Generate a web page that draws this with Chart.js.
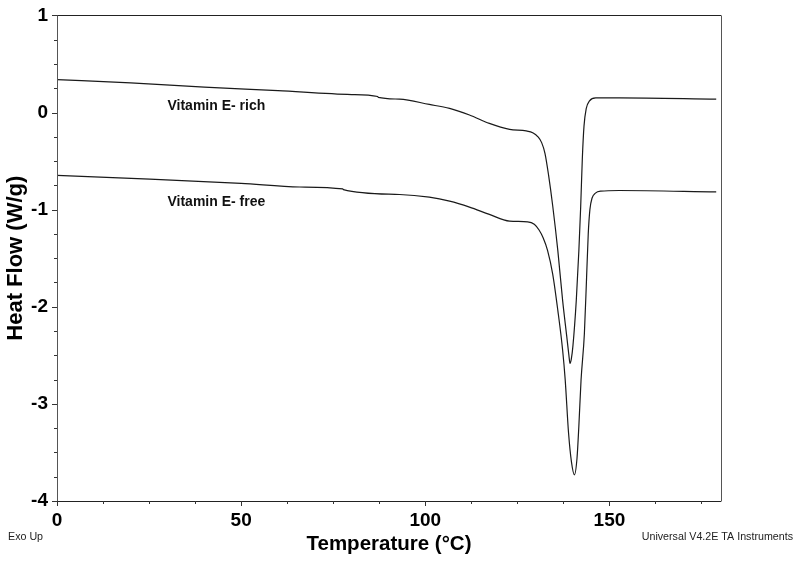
<!DOCTYPE html>
<html>
<head>
<meta charset="utf-8">
<script src="https://cdn.jsdelivr.net/npm/chart.js@4.4.1/dist/chart.umd.min.js"></script>
<style>
  html, body { margin: 0; padding: 0; background: #ffffff; }
  #wrap { width: 800px; height: 564px; position: relative; }
</style>
</head>
<body>
<div id="wrap"><canvas id="c" width="800" height="564"></canvas></div>
<script>
// ---- data ----
const richTemp = [0, 20, 40, 60, 80, 87.1, 87.25, 93.0, 101.1, 106.6, 112.0, 117.4, 122.9, 127.4, 129.3, 130.6, 131.6, 132.5, 133.5, 134.6, 136.0, 137.3, 138.4, 139.0, 139.3, 139.65, 140.1, 141.0, 141.7, 142.2, 142.65, 143.1, 143.7, 144.6, 146.3, 152.7, 179.0];
const richFlow = [0.339, 0.305, 0.262, 0.225, 0.185, 0.165, 0.156, 0.138, 0.083, 0.042, -0.026, -0.112, -0.173, -0.189, -0.210, -0.250, -0.310, -0.420, -0.650, -0.960, -1.425, -1.937, -2.300, -2.500, -2.584, -2.540, -2.400, -1.937, -1.425, -0.970, -0.470, -0.140, 0.040, 0.120, 0.150, 0.151, 0.137];

const freeTemp = [0, 25.2, 50, 65.9, 77.6, 77.75, 93.0, 101.1, 106.6, 112.0, 117.4, 122.9, 127.8, 129.6, 130.9, 132.0, 133.2, 134.6, 136.0, 137.3, 138.0, 138.9, 139.7, 140.5, 141.2, 141.7, 142.3, 143.2, 143.8, 144.25, 144.7, 145.3, 146.2, 147.6, 152.7, 179.0];
const freeFlow = [-0.647, -0.685, -0.730, -0.767, -0.787, -0.794, -0.844, -0.872, -0.913, -0.974, -1.049, -1.118, -1.125, -1.150, -1.210, -1.290, -1.420, -1.663, -2.039, -2.448, -2.755, -3.298, -3.600, -3.730, -3.560, -3.230, -2.755, -2.277, -1.700, -1.250, -1.000, -0.880, -0.830, -0.810, -0.803, -0.818];

const seriesNames = ['Vitamin E- rich', 'Vitamin E- free'];
const labelTemp = [30.0, 30.0];
const labelFlow = [0.07, -0.923];

const xTicks = [0, 50, 100, 150];
const yTicks = [-4, -3, -2, -1, 0, 1];
const xRange = [0, 180.3];
const yRange = [-4, 1];
const xMinorStep = 12.5;
const yMinorStep = 0.25;

const xTitle = 'Temperature (°C)';
const yTitle = 'Heat Flow (W/g)';
const footLeft = 'Exo Up';
const footRight = 'Universal V4.2E TA Instruments';

// ---- build ----
function pts(xs, ys) { return xs.map((x, i) => ({ x: x, y: ys[i] })); }

const FONT = '"Liberation Sans", Arial, Helvetica, sans-serif';

const framePlugin = {
  id: 'frame',
  afterDraw(chart) {
    const ctx = chart.ctx;
    const a = chart.chartArea;
    const xs = chart.scales.x, ys = chart.scales.y;
    ctx.save();
    ctx.lineWidth = 1;
    ctx.strokeStyle = '#222';
    ctx.beginPath();
    ctx.moveTo(a.left, Math.round(a.top) + 0.5);
    ctx.lineTo(a.right, Math.round(a.top) + 0.5);
    ctx.moveTo(a.left, Math.round(a.bottom) + 0.5);
    ctx.lineTo(a.right, Math.round(a.bottom) + 0.5);
    ctx.stroke();
    ctx.strokeStyle = '#555';
    ctx.beginPath();
    ctx.moveTo(Math.round(a.left) + 0.5, a.top);
    ctx.lineTo(Math.round(a.left) + 0.5, a.bottom + 0.5);
    ctx.moveTo(Math.round(a.right) + 0.5, a.top);
    ctx.lineTo(Math.round(a.right) + 0.5, a.bottom + 0.5);
    ctx.stroke();
    ctx.strokeStyle = '#333';
    ctx.beginPath();
    for (let v = xRange[0]; v <= xRange[1] + 1e-9; v += xMinorStep) {
      const px = Math.round(xs.getPixelForValue(v)) + 0.5;
      const major = xTicks.includes(v);
      ctx.moveTo(px, a.bottom);
      ctx.lineTo(px, a.bottom + (major ? 5 : 3));
    }
    for (let v = yRange[0]; v <= yRange[1] + 1e-9; v += yMinorStep) {
      const py = Math.round(ys.getPixelForValue(v)) + 0.5;
      const major = yTicks.includes(v);
      ctx.moveTo(a.left, py);
      ctx.lineTo(a.left - (major ? 5 : 3), py);
    }
    ctx.stroke();
    ctx.fillStyle = '#111';
    ctx.font = 'bold 14px ' + FONT;
    ctx.textAlign = 'left';
    ctx.textBaseline = 'middle';
    seriesNames.forEach((n, i) => {
      ctx.fillText(n, xs.getPixelForValue(labelTemp[i]), ys.getPixelForValue(labelFlow[i]));
    });
    ctx.font = '10.7px ' + FONT;
    ctx.fillStyle = '#222';
    ctx.textAlign = 'left';
    ctx.fillText(footLeft, 8, 537);
    ctx.textAlign = 'right';
    ctx.fillText(footRight, 793, 537);
    ctx.restore();
  }
};

new Chart(document.getElementById('c'), {
  type: 'scatter',
  data: {
    datasets: [
      { label: seriesNames[0], data: pts(richTemp, richFlow) },
      { label: seriesNames[1], data: pts(freeTemp, freeFlow) }
    ].map(d => Object.assign(d, {
      showLine: true, pointRadius: 0, pointHoverRadius: 0,
      borderColor: '#1a1a1a', borderWidth: 1.2,
      cubicInterpolationMode: 'monotone', fill: false
    }))
  },
  options: {
    responsive: false,
    animation: false,
    devicePixelRatio: 1,
    layout: { padding: { top: 13, right: 79, left: 0, bottom: 0 } },
    plugins: { legend: { display: false }, tooltip: { enabled: false } },
    scales: {
      x: {
        type: 'linear', min: xRange[0], max: xRange[1],
        afterBuildTicks(s) { s.ticks = xTicks.map(v => ({ value: v })); },
        afterFit(s) { s.height = 63; },
        grid: { display: false, drawOnChartArea: false, drawTicks: true, tickLength: 4 },
        border: { display: false },
        ticks: { color: '#000', padding: 4, maxRotation: 0, autoSkip: false,
                 font: { family: FONT, size: 19, weight: 'bold' } },
        title: { display: true, text: xTitle, color: '#000',
                 font: { family: FONT, size: 20.5, weight: 'bold' },
                 padding: { top: 0, bottom: 7 } }
      },
      y: {
        type: 'linear', min: yRange[0], max: yRange[1],
        afterBuildTicks(s) { s.ticks = yTicks.map(v => ({ value: v })); },
        afterFit(s) { s.width = 57; },
        grid: { display: false, drawOnChartArea: false, drawTicks: true, tickLength: 5 },
        border: { display: false },
        ticks: { color: '#000', padding: 4, autoSkip: false,
                 font: { family: FONT, size: 19, weight: 'bold' } },
        title: { display: true, text: yTitle, color: '#000',
                 font: { family: FONT, size: 22, weight: 'bold' },
                 padding: { top: 3, bottom: 0 } }
      }
    }
  },
  plugins: [framePlugin]
});
</script>
</body>
</html>
